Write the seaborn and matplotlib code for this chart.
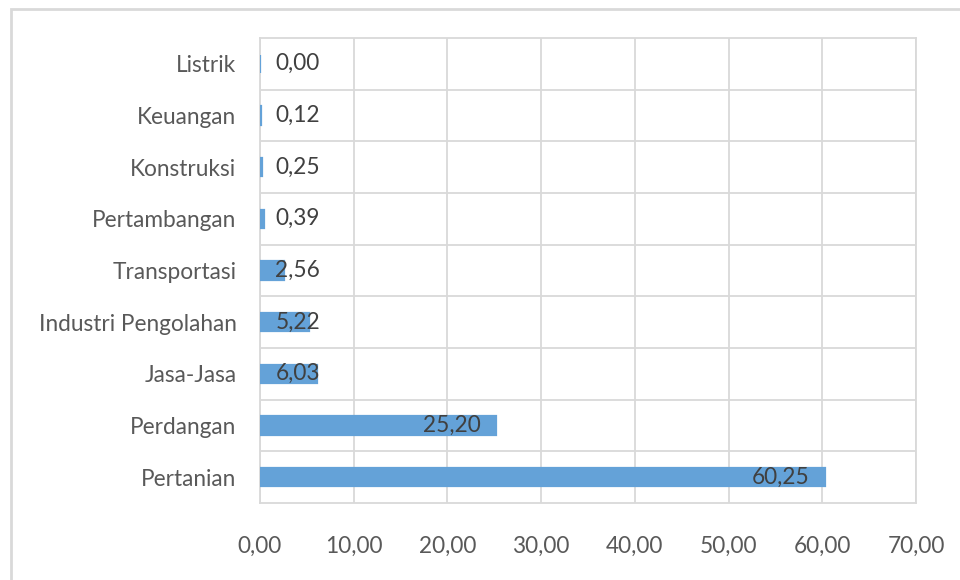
import matplotlib
matplotlib.use("Agg")
import matplotlib.pyplot as plt
import seaborn as sns
import pandas as pd
from matplotlib.patches import Rectangle
from matplotlib.ticker import MultipleLocator, FuncFormatter

sektor = ['Listrik', 'Keuangan', 'Konstruksi', 'Pertambangan', 'Transportasi',
          'Industri Pengolahan', 'Jasa-Jasa', 'Perdangan', 'Pertanian']
nilai = [0.00, 0.12, 0.25, 0.39, 2.56, 5.22, 6.03, 25.20, 60.25]

df = pd.DataFrame({'Sektor': sektor, 'Nilai': nilai})

sns.set_style('white')
plt.rcParams['font.family'] = ['Lato', 'DejaVu Sans']

grid_col = '#D9D9D9'
bar_col = '#64A2D8'

fig = plt.figure(figsize=(9.6, 5.8), dpi=100)
ax = fig.add_axes([260 / 960, 1 - 503 / 580, (916 - 260) / 960, (503 - 38) / 580])

sns.barplot(data=df, x='Nilai', y='Sektor', orient='h', color=bar_col,
            width=0.35, saturation=1, edgecolor=bar_col, linewidth=1.6, ax=ax)

# label angka, format koma desimal
for i, v in enumerate(nilai):
    teks = f'{v:.2f}'.replace('.', ',')
    if v < 8:
        ax.annotate(teks, (0, i), xytext=(11, 0), textcoords='offset points',
                    ha='left', va='center', fontsize=16.3, color='#404040')
    else:
        ax.annotate(teks, (v, i), xytext=(-11, 0), textcoords='offset points',
                    ha='right', va='center', fontsize=16.3, color='#404040')

ax.set_xlim(0, 70)
ax.set_ylim(len(sektor) - 0.5, -0.5)
ax.xaxis.set_major_locator(MultipleLocator(10))
ax.xaxis.set_major_formatter(FuncFormatter(lambda x, p: f'{x:.2f}'.replace('.', ',')))
ax.set_yticks([i + 0.5 for i in range(len(sektor) - 1)], minor=True)

ax.grid(axis='x', which='major', color=grid_col, lw=1.3)
ax.grid(axis='y', which='minor', color=grid_col, lw=1.3)
ax.set_axisbelow(True)
for s in ax.spines.values():
    s.set_color(grid_col)
    s.set_linewidth(1.3)
    s.set_zorder(0.6)

ax.tick_params(axis='both', which='both', length=0)
ax.tick_params(axis='y', pad=17, labelsize=16.3, labelcolor='#595959')
ax.tick_params(axis='x', pad=24, labelsize=16.3, labelcolor='#595959')
ax.set_xlabel('')
ax.set_ylabel('')

# bingkai luar chart
fig.patches.append(Rectangle((11 / 960, -0.2), 1.5, 1 - 9 / 580 + 0.2,
                             transform=fig.transFigure, fill=False,
                             edgecolor='#D9D9D9', lw=2))

fig.savefig('out.png', dpi=100)
